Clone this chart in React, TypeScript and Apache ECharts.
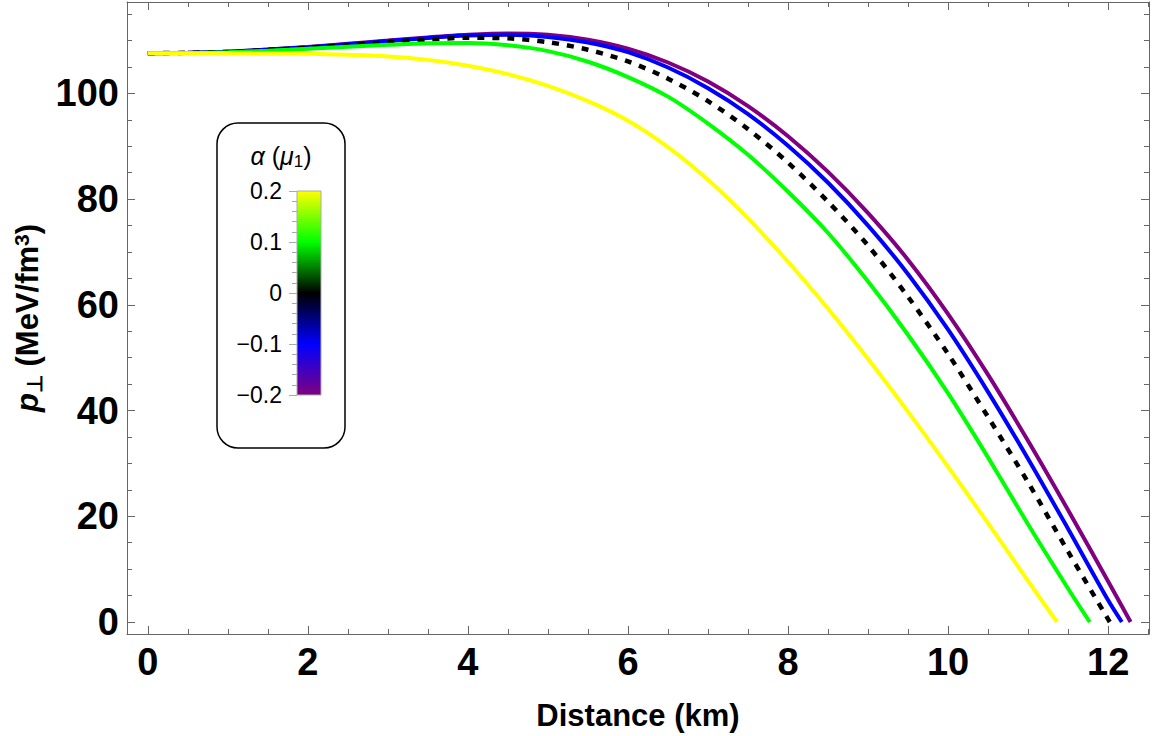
import React, { useEffect, useRef } from "react";
import * as echarts from "echarts";

// Distance grid (km) shared by the series
const DIST = [0, 0.5, 1, 1.5, 2, 2.5, 3, 3.5, 4, 4.5, 5, 5.5, 6, 6.5, 7, 7.5, 8, 8.5, 9, 9.5, 10, 10.5, 11, 11.5, 12];

// Transverse pressure (MeV/fm^3) at the distances above, per alpha value
const P_ALPHA_M02 = [107.6, 107.7, 107.9, 108.3, 108.8, 109.4, 110.0, 110.6, 111.1, 111.35, 111.1, 110.15, 108.45, 105.85, 102.25, 97.6, 91.9, 85.15, 77.35, 68.5, 58.25, 46.75, 34.25, 21.15, 7.65];
const P_ALPHA_M01 = [107.6, 107.7, 107.9, 108.3, 108.75, 109.3, 109.9, 110.5, 110.95, 111.1, 110.7, 109.65, 107.8, 104.9, 101.0, 96.1, 90.1, 83.1, 75.0, 65.8, 55.3, 43.5, 30.85, 17.6, 4.1];
const P_ALPHA_0 = [107.6, 107.7, 107.85, 108.2, 108.65, 109.15, 109.7, 110.2, 110.53, 110.42, 109.7, 108.27, 106.05, 102.8, 98.55, 93.25, 86.9, 79.5, 71.2, 61.5, 50.7, 38.75, 26.4, 13.3, 0.5];
const P_ALPHA_01 = [107.6, 107.65, 107.8, 108.1, 108.45, 108.85, 109.2, 109.5, 109.55, 109.1, 108.0, 106.0, 103.1, 99.4, 94.3, 88.4, 81.4, 73.6, 64.4, 54.3, 43.25, 31.1, 18.45, 6.3];
const P_ALPHA_02 = [107.6, 107.6, 107.6, 107.55, 107.5, 107.3, 107.0, 106.35, 105.25, 103.65, 101.45, 98.55, 94.85, 89.85, 83.65, 76.35, 68.15, 59.25, 49.75, 39.75, 29.35, 18.65, 7.75];

// Surface radius (km) where the pressure vanishes
const R_ALPHA_M02 = 12.28;
const R_ALPHA_M01 = 12.17;
const R_ALPHA_0 = 12.02;
const R_ALPHA_01 = 11.77;
const R_ALPHA_02 = 11.36;

// Axis ticks
const X_MAJOR = [0, 2, 4, 6, 8, 10, 12];
const X_MINOR = [0.5, 1, 1.5, 2.5, 3, 3.5, 4.5, 5, 5.5, 6.5, 7, 7.5, 8.5, 9, 9.5, 10.5, 11, 11.5, 12.5];
const Y_MAJOR = [0, 20, 40, 60, 80, 100];
const Y_MINOR = [5, 10, 15, 25, 30, 35, 45, 50, 55, 65, 70, 75, 85, 90, 95, 105, 110, 115];

const X_MIN = -0.26;
const X_MAX = 12.51;
const Y_MIN = -2.27;
const Y_MAX = 117.3;

const FONT = "'Liberation Sans', Arial, sans-serif";
const FRAME = "#666666";

function pairs(p: number[], rEnd: number) {
  const d: number[][] = DIST.slice(0, p.length).map((x, i) => [x, p[i]]);
  d.push([rEnd, 0]);
  return d;
}

export default function App() {
  const ref = useRef<HTMLDivElement>(null);
  useEffect(() => {
    if (!ref.current) return;
    const chart = echarts.init(ref.current, null, { renderer: "svg" });

    const gridBox = { left: 127, right: 3, top: 2, bottom: 102 };

    const xBase = {
      type: "value",
      gridIndex: 0,
      min: X_MIN,
      max: X_MAX,
      splitLine: { show: false },
    };
    const yBase = {
      type: "value",
      gridIndex: 0,
      min: Y_MIN,
      max: Y_MAX,
      splitLine: { show: false },
    };
    const frameLine = (show: boolean) => ({
      show,
      onZero: false,
      lineStyle: { color: FRAME, width: 1 },
    });

    const lineSeries = (name: string, data: number[][], color: string, extra: any = {}) => ({
      type: "line",
      name,
      xAxisIndex: 0,
      yAxisIndex: 0,
      data,
      showSymbol: false,
      smooth: 0.3,
      lineStyle: { color, width: 4, ...extra },
      z: 3,
    });

    const option: any = {
      animation: false,
      backgroundColor: "#ffffff",
      textStyle: { fontFamily: FONT },
      grid: [
        gridBox,
        { left: 297, top: 191, width: 24, height: 204 },
      ],
      xAxis: [
        {
          ...xBase,
          position: "bottom",
          axisLine: frameLine(true),
          axisTick: { show: true, inside: true, length: 8, customValues: X_MAJOR, lineStyle: { color: FRAME } },
          axisLabel: {
            show: true,
            customValues: X_MAJOR,
            fontSize: 38,
            fontWeight: "bold",
            color: "#000",
            margin: 9,
            fontFamily: FONT,
          },
          name: "Distance (km)",
          nameLocation: "middle",
          nameGap: 66,
          nameTextStyle: { fontSize: 31, fontWeight: "bold", color: "#000", fontFamily: FONT },
        },
        {
          ...xBase,
          position: "bottom",
          axisLine: frameLine(false),
          axisTick: { show: true, inside: true, length: 5, customValues: X_MINOR, lineStyle: { color: FRAME } },
          axisLabel: { show: false },
        },
        {
          ...xBase,
          position: "top",
          axisLine: frameLine(true),
          axisTick: { show: true, inside: true, length: 8, customValues: X_MAJOR, lineStyle: { color: FRAME } },
          axisLabel: { show: false },
        },
        {
          ...xBase,
          position: "top",
          axisLine: frameLine(false),
          axisTick: { show: true, inside: true, length: 5, customValues: X_MINOR, lineStyle: { color: FRAME } },
          axisLabel: { show: false },
        },
        { type: "value", gridIndex: 1, show: false, min: 0, max: 1 },
      ],
      yAxis: [
        {
          ...yBase,
          position: "left",
          axisLine: frameLine(true),
          axisTick: { show: true, inside: true, length: 8, customValues: Y_MAJOR, lineStyle: { color: FRAME } },
          axisLabel: {
            show: true,
            customValues: Y_MAJOR,
            fontSize: 38,
            fontWeight: "bold",
            color: "#000",
            margin: 8,
            fontFamily: FONT,
          },
          name: "{p|p}{s|⊥} (MeV/fm{u|3})",
          nameLocation: "middle",
          nameGap: 82,
          nameRotate: 90,
          nameTextStyle: {
            fontSize: 31,
            fontWeight: "bold",
            color: "#000",
            fontFamily: FONT,
            lineHeight: 34,
            rich: {
              p: { fontSize: 31, fontWeight: "bold", fontStyle: "italic", fontFamily: FONT, color: "#000", lineHeight: 34 },
              s: { fontSize: 21, fontWeight: "bold", fontFamily: FONT, color: "#000", lineHeight: 12, verticalAlign: "bottom" },
              u: { fontSize: 21, fontWeight: "bold", fontFamily: FONT, color: "#000", lineHeight: 12, verticalAlign: "top" },
            },
          },
        },
        {
          ...yBase,
          position: "left",
          axisLine: frameLine(false),
          axisTick: { show: true, inside: true, length: 5, customValues: Y_MINOR, lineStyle: { color: FRAME } },
          axisLabel: { show: false },
        },
        {
          ...yBase,
          position: "right",
          axisLine: frameLine(true),
          axisTick: { show: true, inside: true, length: 8, customValues: Y_MAJOR, lineStyle: { color: FRAME } },
          axisLabel: { show: false },
        },
        {
          ...yBase,
          position: "right",
          axisLine: frameLine(false),
          axisTick: { show: true, inside: true, length: 5, customValues: Y_MINOR, lineStyle: { color: FRAME } },
          axisLabel: { show: false },
        },
        {
          type: "value",
          gridIndex: 1,
          position: "left",
          min: -0.2,
          max: 0.2,
          interval: 0.1,
          z: 20,
          axisLine: { show: false, onZero: false },
          splitLine: { show: false },
          minorSplitLine: { show: false },
          axisTick: { show: true, inside: false, length: 8, lineStyle: { color: "#aaaaaa" } },
          minorTick: { show: true, splitNumber: 5, length: 5, lineStyle: { color: "#aaaaaa" } },
          axisLabel: {
            fontSize: 23,
            color: "#000",
            margin: 15,
            fontFamily: FONT,
            formatter: (v: number) => {
              const r = Math.round(v * 10) / 10;
              if (r === 0) return "0";
              return r < 0 ? "\u2212" + Math.abs(r).toFixed(1) : r.toFixed(1);
            },
          },
        },
      ],
      graphic: [
        {
          type: "rect",
          shape: { x: 217, y: 123, width: 128, height: 325, r: 21 },
          style: { fill: "#ffffff", stroke: "#000000", lineWidth: 1.5 },
          z: 10,
        },
        {
          type: "text",
          x: 281,
          y: 156,
          z: 11,
          style: {
            text: "{i|α} ({i|μ}{s|1})",
            align: "center",
            verticalAlign: "middle",
            fontSize: 25,
            fontFamily: FONT,
            fill: "#000",
            rich: {
              i: { fontSize: 25, fontStyle: "italic", fontFamily: FONT, fill: "#000", lineHeight: 28 },
              s: { fontSize: 17, fontFamily: FONT, fill: "#000", lineHeight: 8, verticalAlign: "bottom" },
            },
          },
        },
        {
          type: "rect",
          shape: { x: 297, y: 191, width: 24, height: 204 },
          style: {
            fill: new echarts.graphic.LinearGradient(0, 0, 0, 1, [
              { offset: 0, color: "#ffff00" },
              { offset: 0.25, color: "#00ff00" },
              { offset: 0.5, color: "#000000" },
              { offset: 0.75, color: "#0000ff" },
              { offset: 1, color: "#800080" },
            ]),
            stroke: "#aaaaaa",
            lineWidth: 1,
          },
          z: 11,
        },
      ],
      series: [
        lineSeries("α = −0.2", pairs(P_ALPHA_M02, R_ALPHA_M02), "#800080"),
        lineSeries("α = −0.1", pairs(P_ALPHA_M01, R_ALPHA_M01), "#0000ff"),
        lineSeries("α = 0", pairs(P_ALPHA_0, R_ALPHA_0), "#000000", { type: [7, 8], width: 4.5 }),
        lineSeries("α = 0.1", pairs(P_ALPHA_01, R_ALPHA_01), "#00ff00"),
        lineSeries("α = 0.2", pairs(P_ALPHA_02, R_ALPHA_02), "#ffff00"),
      ],
    };

    chart.setOption(option);
    return () => chart.dispose();
  }, []);

  return (
    <div
      ref={ref}
      style={{ position: "absolute", left: 0, top: 0, width: 1152, height: 736 }}
    />
  );
}
